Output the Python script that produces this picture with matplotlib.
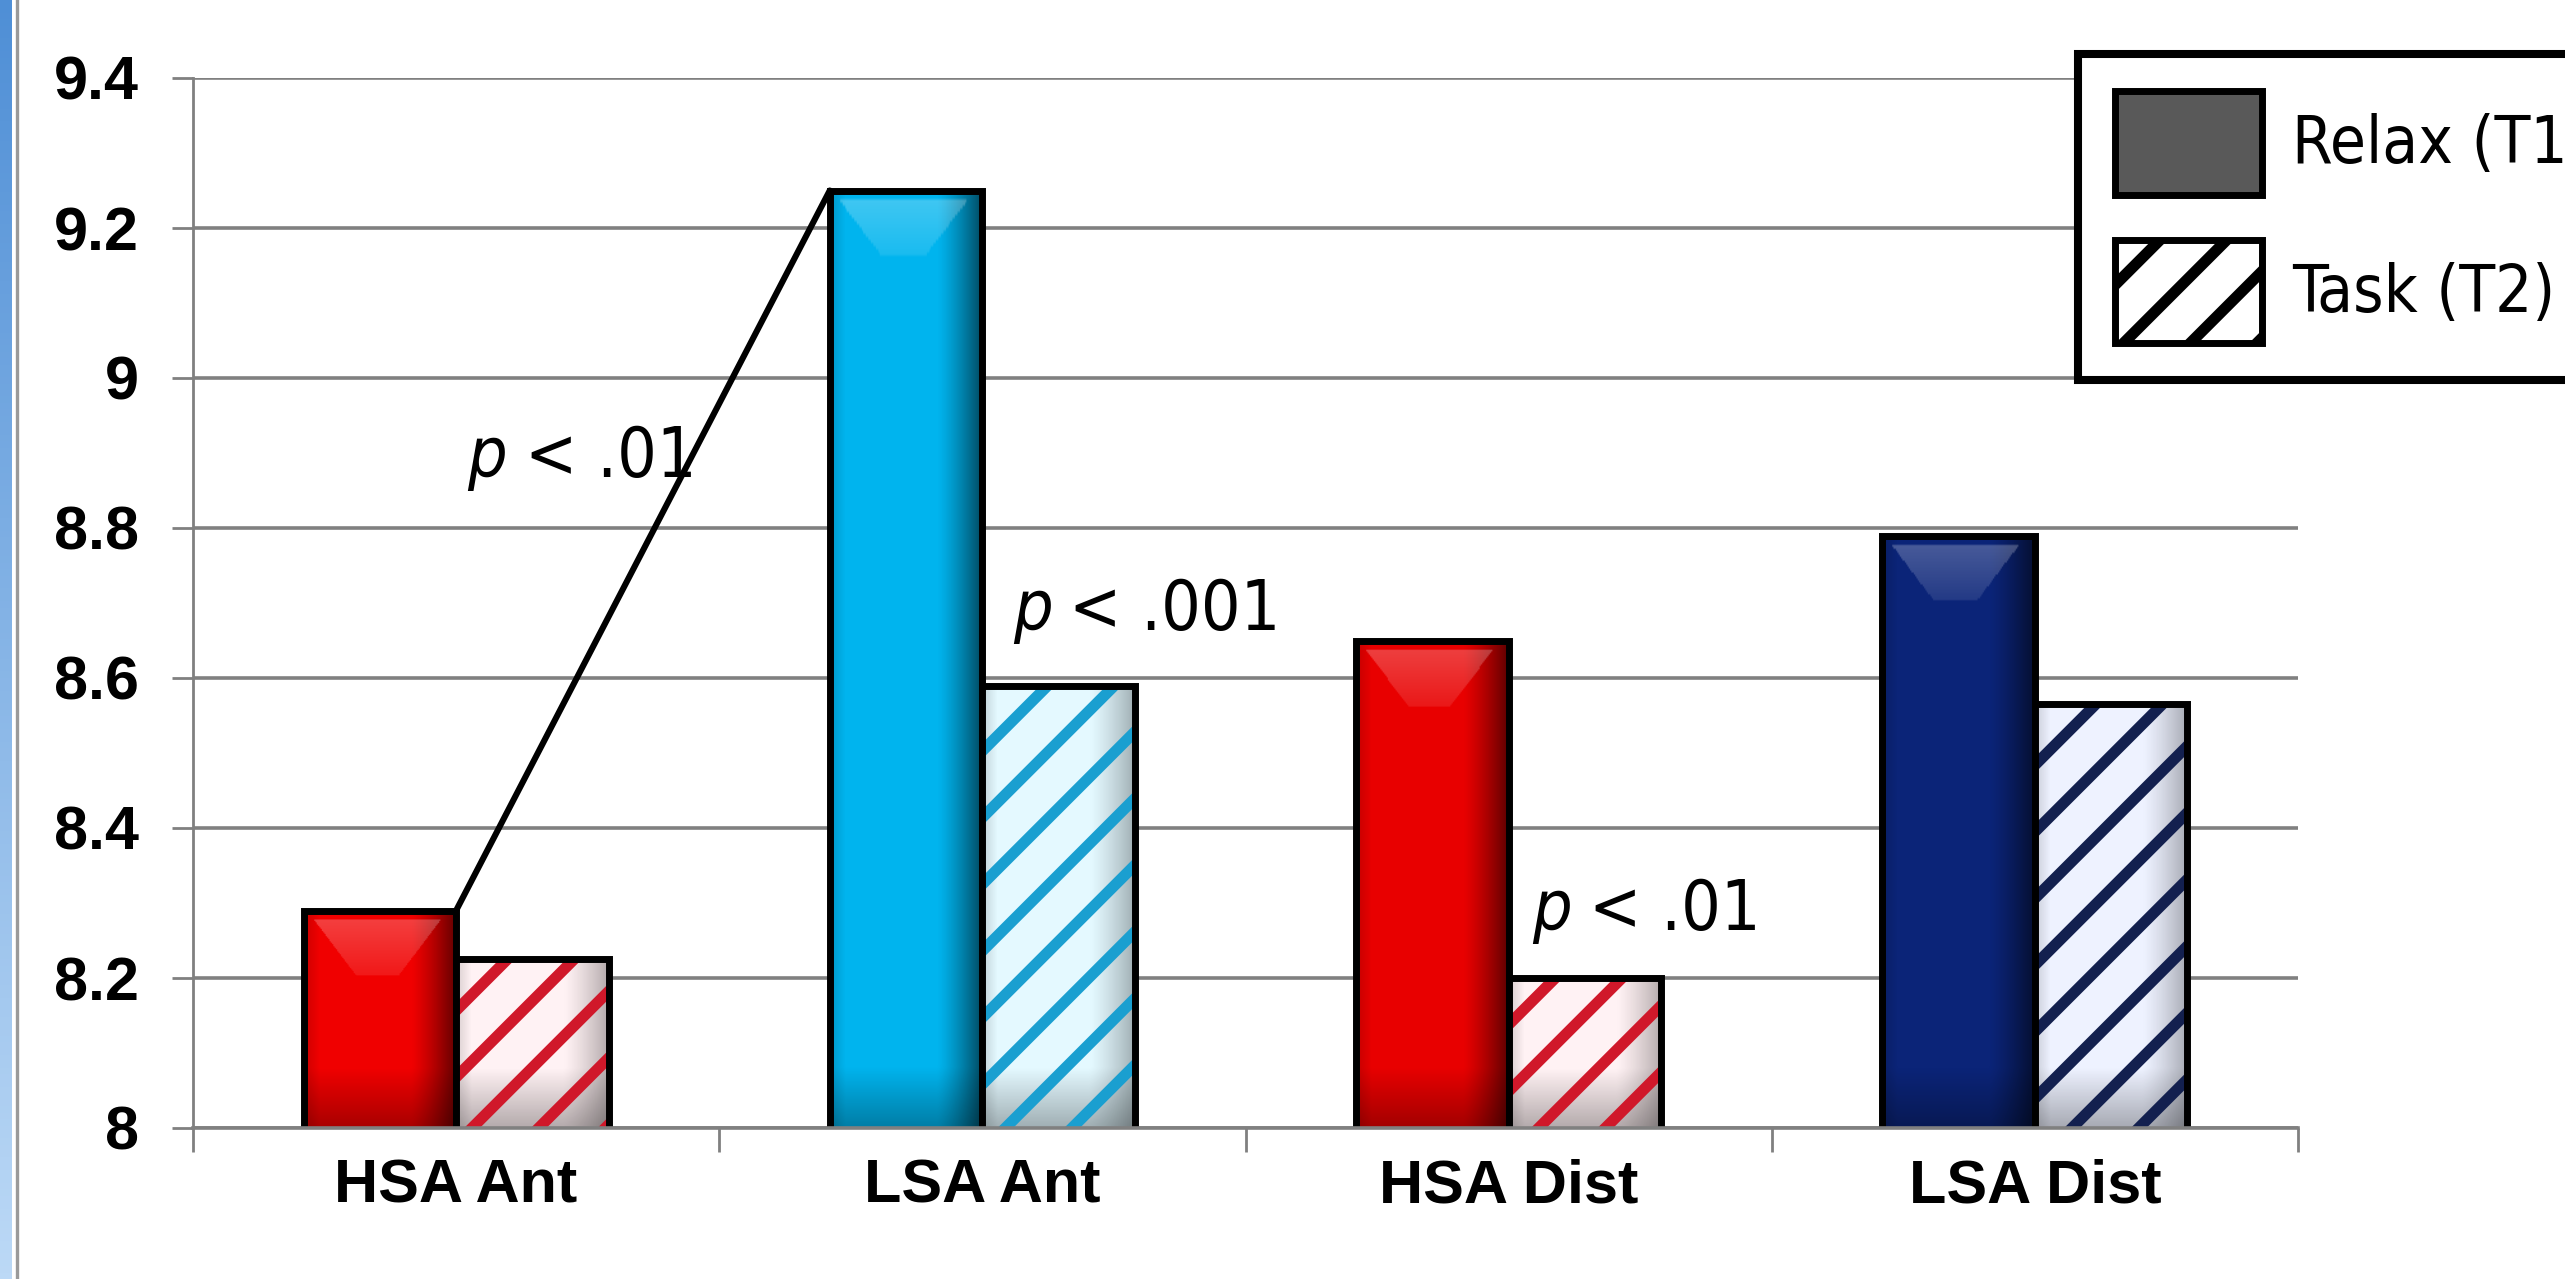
import os
import numpy as np
import matplotlib
matplotlib.use('Agg')
import matplotlib.pyplot as plt
from matplotlib import font_manager as fm
from matplotlib.patches import Patch
from matplotlib.lines import Line2D
from matplotlib.colors import to_rgb

# data
categories = ['HSA Ant', 'LSA Ant', 'HSA Dist', 'LSA Dist']
relax_t1 = [8.29, 9.25, 8.65, 8.79]
task_t2 = [8.225, 8.59, 8.2, 8.565]
series_names = ['Relax (T1)', 'Task (T2)']
y_ticks = [8.0, 8.2, 8.4, 8.6, 8.8, 9.0, 9.2, 9.4]
y_tick_labels = ['8', '8.2', '8.4', '8.6', '8.8', '9', '9.2', '9.4']
p_values = ['< .01', '< .001', '< .01']

# styles
bar_colors = ['#f00000', '#00b4ee', '#e80000', '#0b2478']
hatch_colors = ['#d0182a', '#1a9fd0', '#d0182a', '#13204f']
hatch_bg = ['#fff2f4', '#e4f9ff', '#fff2f4', '#eef2ff']
grid_col = '#808080'


def find_narrow(italic=False):
    # look for an installed narrow / condensed face
    prefs = ['liberationsansnarrow', 'arialnarrow', 'dejavusanscondensed', 'robotocondensed',
             'opensanscondensed', 'notosanscondensed', 'condensed', 'narrow']
    files = []
    for e in fm.fontManager.ttflist:
        b = os.path.basename(e.fname).lower().replace('-', '').replace('_', '').replace(' ', '')
        if 'bold' in b or 'light' in b or 'black' in b or 'thin' in b or 'medium' in b or 'semi' in b:
            continue
        is_it = ('italic' in b) or ('oblique' in b)
        if is_it != italic:
            continue
        files.append((b, e.fname))
    for p in prefs:
        for b, f in files:
            if p in b:
                return fm.FontProperties(fname=f)
    return None


narrow = find_narrow()
narrow_it = find_narrow(italic=True)
plt.rcParams['font.family'] = ['Liberation Sans', 'DejaVu Sans']
plt.rcParams['hatch.linewidth'] = 4.0

if narrow is None:
    narrow = fm.FontProperties(family='Liberation Sans')
    text_size, leg_size = 23, 22
else:
    text_size, leg_size = 25, 23.5
if narrow_it is None:
    narrow_it = fm.FontProperties(family='Liberation Sans', style='italic')

fig = plt.figure(figsize=(12.825, 6.395), dpi=200)
fig.patch.set_facecolor('white')

# slide edge on the left
ax_strip = fig.add_axes([0, 0, 12 / 2565, 1])
top_c, bot_c = np.array(to_rgb('#4f8fd6')), np.array(to_rgb('#bcd9f6'))
t = np.linspace(0, 1, 200)[:, None]
ax_strip.imshow((top_c * (1 - t) + bot_c * t)[:, None, :], aspect='auto', extent=(0, 1, 0, 1))
ax_strip.axis('off')
fig.add_artist(Line2D([17 / 2565] * 2, [0, 1], transform=fig.transFigure, color='#9a9a9a', lw=1.2))

ax = fig.add_axes([193 / 2565, 1 - 1128 / 1279, 2105 / 2565, 1050 / 1279])
ax.set_axisbelow(True)

x = np.arange(len(categories))
w = 0.29
y0 = y_ticks[0]


def shade(bar, strength=0.6, glow=0.25):
    bx, bw, bh = bar.get_x(), bar.get_width(), bar.get_height()
    u = np.linspace(0, 1, 120)[None, :]
    yy = np.linspace(bh, y0, 300)[:, None]
    a_h = strength * np.clip((u - 0.7) / 0.3, 0, 1) ** 1.3 + 0.15 * np.clip((0.1 - u) / 0.1, 0, 1)
    a_v = 0.3 * np.clip((y0 + 0.08 - yy) / 0.08, 0, 1)
    a = 1 - (1 - a_h) * (1 - a_v)
    img = np.zeros((300, 120, 4))
    img[..., 3] = a
    im = ax.imshow(img, extent=(bx, bx + bw, y0, bh), aspect='auto',
                   interpolation='bilinear', zorder=2.05)
    im.set_clip_path(bar)
    if glow > 0:
        d = np.clip((bh - 0.012 - yy) / 0.075, 0, None)
        inside = (u > 0.06 + 0.28 * d) & (u < 0.9 - 0.28 * d) & (d <= 1) & (yy < bh - 0.012)
        hl = np.zeros((300, 120, 4))
        hl[..., :3] = 1
        hl[..., 3] = np.where(inside, glow * (1 - 0.6 * d), 0)
        im2 = ax.imshow(hl, extent=(bx, bx + bw, y0, bh), aspect='auto',
                        interpolation='bilinear', zorder=2.06)
        im2.set_clip_path(bar)


relax_bars = ax.bar(x - w / 2, relax_t1, w, color=bar_colors, edgecolor='black',
                    linewidth=2.5, zorder=2)
bg_bars = ax.bar(x + w / 2, task_t2, w, color=hatch_bg, linewidth=0, zorder=2)
ax.bar(x + w / 2, task_t2, w, fill=False, hatch='/', edgecolor=hatch_colors,
       linewidth=0, zorder=2.2)
ax.bar(x + w / 2, task_t2, w, fill=False, edgecolor='black', linewidth=2.5, zorder=2.3)

for b in relax_bars:
    shade(b)
for b in bg_bars:
    shade(b, strength=0.3, glow=0)

# significance line between HSA Ant and LSA Ant relax bars
ax.plot([x[0], x[1] - w], [relax_t1[0], relax_t1[1]], color='black', lw=2.2,
        zorder=2.5, solid_capstyle='round')

# p-value notes: (x of "p", x of "<", baseline)
p_pos = [(0.02, 0.13, 8.868), (1.058, 1.165, 8.664), (2.044, 2.152, 8.264)]
for (xp, xl, yb), txt in zip(p_pos, p_values):
    ax.text(xp, yb, 'p', fontproperties=narrow_it, fontsize=text_size, ha='left', va='baseline')
    ax.text(xl, yb, txt, fontproperties=narrow, fontsize=text_size, ha='left', va='baseline')

ax.set_ylim(y_ticks[0], y_ticks[-1])
ax.set_xlim(-0.5, len(categories) - 0.5)
ax.set_yticks(y_ticks)
ax.set_yticklabels(y_tick_labels, fontsize=22, fontweight='bold')
ax.set_xticks(x)
ax.set_xticklabels(categories, fontsize=22, fontweight='bold')
ax.set_xticks(np.arange(len(categories) + 1) - 0.5, minor=True)
ax.tick_params(axis='x', which='major', length=0, pad=11)
ax.tick_params(axis='x', which='minor', length=8.6, width=1, color=grid_col)
ax.tick_params(axis='y', length=7.5, width=1, color=grid_col, pad=12)
ax.yaxis.grid(True, color=grid_col, lw=1.3)
for s in ['top', 'right']:
    ax.spines[s].set_visible(False)
ax.spines['left'].set_color(grid_col)
ax.spines['left'].set_linewidth(1)
ax.spines['bottom'].set_color(grid_col)
ax.spines['bottom'].set_linewidth(1.3)

handles = [Patch(facecolor='#595959', edgecolor='black', lw=2.5),
           Patch(facecolor='white', edgecolor='black', hatch='/', lw=2.5)]
leg_prop = narrow.copy()
leg_prop.set_size(leg_size)
em = leg_size * 200 / 72
leg = ax.legend(handles, series_names, loc='upper left', bbox_to_anchor=(0.8955, 1.0229),
                prop=leg_prop, frameon=True, fancybox=False,
                framealpha=1, edgecolor='black', handlelength=147 / em, handleheight=135 / em,
                labelspacing=45 / em, handletextpad=30 / em,
                borderpad=37 / em, borderaxespad=0)
leg.get_frame().set_linewidth(2.9)
leg.set_zorder(5)

fig.savefig('out.png', dpi=200)
